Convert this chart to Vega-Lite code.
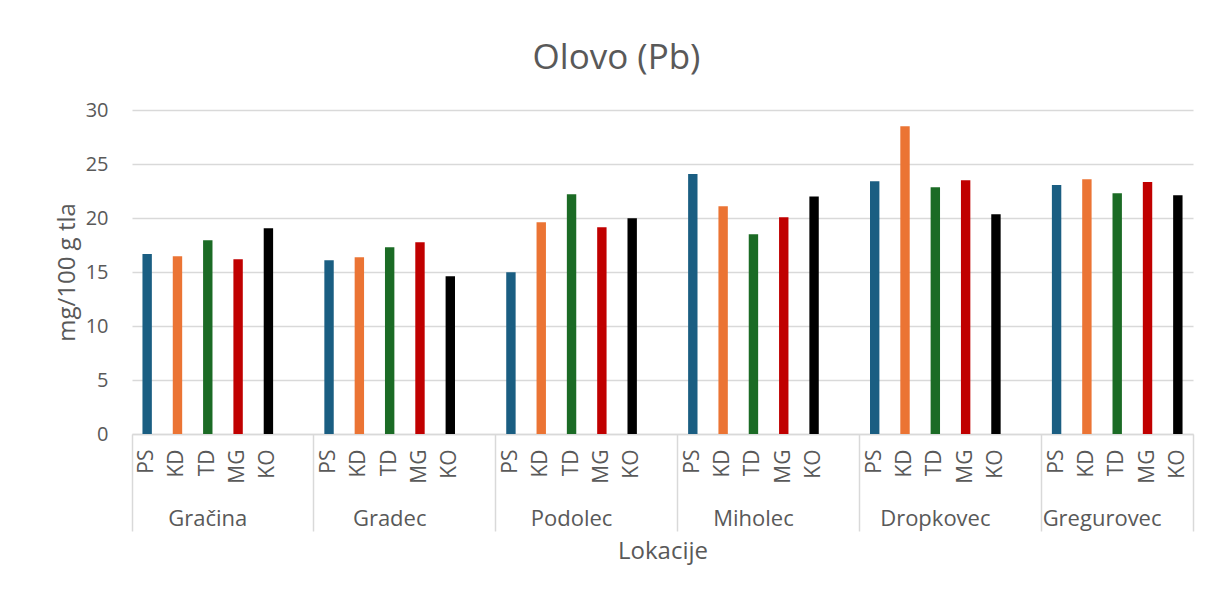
{
  "$schema": "https://vega.github.io/schema/vega-lite/v6.json",
  "autosize": {"type": "none"},
  "padding": {"left": 132, "top": 110, "right": 19, "bottom": 163},
  "width": 1061,
  "height": 324,
  "background": "white",
  "config": {
    "view": {"stroke": null},
    "font": "Open Sans",
    "axis": {"labelFont": "Open Sans", "titleFont": "Open Sans", "labelColor": "#595959", "titleColor": "#595959", "titleFontWeight": "normal"}
  },
  "title": {
    "text": "Olovo (Pb)",
    "font": "Open Sans",
    "fontSize": 35,
    "fontWeight": "normal",
    "color": "#595959",
    "anchor": "middle",
    "dx": -46,
    "offset": 24
  },
  "data": {
    "values": [
      {"k": "Gračina|PS", "s": "PS", "v": 16.67},
      {"k": "Gračina|KD", "s": "KD", "v": 16.45},
      {"k": "Gračina|TD", "s": "TD", "v": 17.93},
      {"k": "Gračina|MG", "s": "MG", "v": 16.18},
      {"k": "Gračina|KO", "s": "KO", "v": 19.05},
      {"k": "Gradec|PS", "s": "PS", "v": 16.08},
      {"k": "Gradec|KD", "s": "KD", "v": 16.36},
      {"k": "Gradec|TD", "s": "TD", "v": 17.29},
      {"k": "Gradec|MG", "s": "MG", "v": 17.75},
      {"k": "Gradec|KO", "s": "KO", "v": 14.6},
      {"k": "Podolec|PS", "s": "PS", "v": 14.97},
      {"k": "Podolec|KD", "s": "KD", "v": 19.6},
      {"k": "Podolec|TD", "s": "TD", "v": 22.2},
      {"k": "Podolec|MG", "s": "MG", "v": 19.14},
      {"k": "Podolec|KO", "s": "KO", "v": 19.97},
      {"k": "Miholec|PS", "s": "PS", "v": 24.07},
      {"k": "Miholec|KD", "s": "KD", "v": 21.08},
      {"k": "Miholec|TD", "s": "TD", "v": 18.5},
      {"k": "Miholec|MG", "s": "MG", "v": 20.06},
      {"k": "Miholec|KO", "s": "KO", "v": 22.0},
      {"k": "Dropkovec|PS", "s": "PS", "v": 23.4},
      {"k": "Dropkovec|KD", "s": "KD", "v": 28.5},
      {"k": "Dropkovec|TD", "s": "TD", "v": 22.84},
      {"k": "Dropkovec|MG", "s": "MG", "v": 23.49},
      {"k": "Dropkovec|KO", "s": "KO", "v": 20.34},
      {"k": "Gregurovec|PS", "s": "PS", "v": 23.06},
      {"k": "Gregurovec|KD", "s": "KD", "v": 23.58},
      {"k": "Gregurovec|TD", "s": "TD", "v": 22.29},
      {"k": "Gregurovec|MG", "s": "MG", "v": 23.33},
      {"k": "Gregurovec|KO", "s": "KO", "v": 22.1}
    ]
  },
  "encoding": {
    "y": {
      "field": "v",
      "type": "quantitative",
      "scale": {"domain": [0, 30], "nice": false, "zero": true},
      "axis": {
        "title": "mg/100 g tla",
        "titleFontSize": 24,
        "titlePadding": 6,
        "labelFontSize": 20,
        "labelPadding": 24,
        "values": [0, 5, 10, 15, 20, 25, 30],
        "ticks": false,
        "domain": false,
        "grid": true,
        "gridColor": "#d9d9d9",
        "gridWidth": 1.5
      }
    }
  },
  "layer": [
    {
      "mark": {"type": "bar", "width": {"band": 0.31}},
      "encoding": {
        "x": {
          "field": "k",
          "type": "nominal",
          "scale": {
            "domain": ["Gračina|PS", "Gračina|KD", "Gračina|TD", "Gračina|MG", "Gračina|KO", "Gračina|",
                       "Gradec|PS", "Gradec|KD", "Gradec|TD", "Gradec|MG", "Gradec|KO", "Gradec|",
                       "Podolec|PS", "Podolec|KD", "Podolec|TD", "Podolec|MG", "Podolec|KO", "Podolec|",
                       "Miholec|PS", "Miholec|KD", "Miholec|TD", "Miholec|MG", "Miholec|KO", "Miholec|",
                       "Dropkovec|PS", "Dropkovec|KD", "Dropkovec|TD", "Dropkovec|MG", "Dropkovec|KO", "Dropkovec|",
                       "Gregurovec|PS", "Gregurovec|KD", "Gregurovec|TD", "Gregurovec|MG", "Gregurovec|KO"],
            "paddingInner": 0,
            "paddingOuter": 0
          },
          "axis": {
            "orient": "bottom",
            "title": null,
            "labelExpr": "split(datum.value, '|')[1]",
            "labelAngle": -90,
            "labelFontSize": 21,
            "labelPadding": 15,
            "ticks": false,
            "domain": true,
            "domainColor": "#d9d9d9",
            "domainWidth": 1.5,
            "grid": false
          }
        },
        "color": {
          "field": "s",
          "type": "nominal",
          "scale": {"domain": ["PS", "KD", "TD", "MG", "KO"], "range": ["#1a5e82", "#eb7434", "#1b6b25", "#c00000", "#000000"]},
          "legend": null
        }
      }
    },
    {
      "mark": {"type": "bar", "width": {"band": 0.31}, "opacity": 0},
      "encoding": {
        "x": {
          "field": "k",
          "type": "nominal",
          "axis": {
            "orient": "bottom",
            "title": null,
            "labels": false,
            "domain": false,
            "grid": false,
            "ticks": true,
            "bandPosition": 0,
            "tickSize": 97,
            "tickWidth": 1.5,
            "tickColor": {"condition": {"test": "split(datum.value, '|')[1] === 'PS'", "value": "#d9d9d9"}, "value": "transparent"}
          }
        }
      }
    },
    {
      "mark": {"type": "bar", "width": {"band": 0.31}, "opacity": 0},
      "encoding": {
        "x": {
          "field": "k",
          "type": "nominal",
          "axis": {
            "orient": "bottom",
            "title": null,
            "labels": false,
            "domain": false,
            "grid": false,
            "ticks": true,
            "bandPosition": 1,
            "tickSize": 97,
            "tickWidth": 1.5,
            "tickColor": {"condition": {"test": "datum.value === 'Gregurovec|KO'", "value": "#d9d9d9"}, "value": "transparent"}
          }
        }
      }
    },
    {
      "mark": {"type": "bar", "width": {"band": 0.31}, "opacity": 0},
      "encoding": {
        "x": {
          "field": "k",
          "type": "nominal",
          "axis": {
            "orient": "bottom",
            "title": "Lokacije",
            "titleFontSize": 24,
            "titlePadding": 10,
            "labels": true,
            "labelExpr": "split(datum.value, '|')[1] === 'TD' ? split(datum.value, '|')[0] : ''",
            "labelAngle": 0,
            "labelFontSize": 22,
            "labelBaseline": "alphabetic",
            "labelPadding": 91,
            "labelOffset": {"condition": {"test": "indexof(datum.value, 'Gregurovec') === 0", "value": -15.15}, "value": 0},
            "labelOverlap": false,
            "bandPosition": 1,
            "domain": false,
            "grid": false,
            "ticks": false
          }
        }
      }
    }
  ],
  "resolve": {"axis": {"x": "independent"}}
}
